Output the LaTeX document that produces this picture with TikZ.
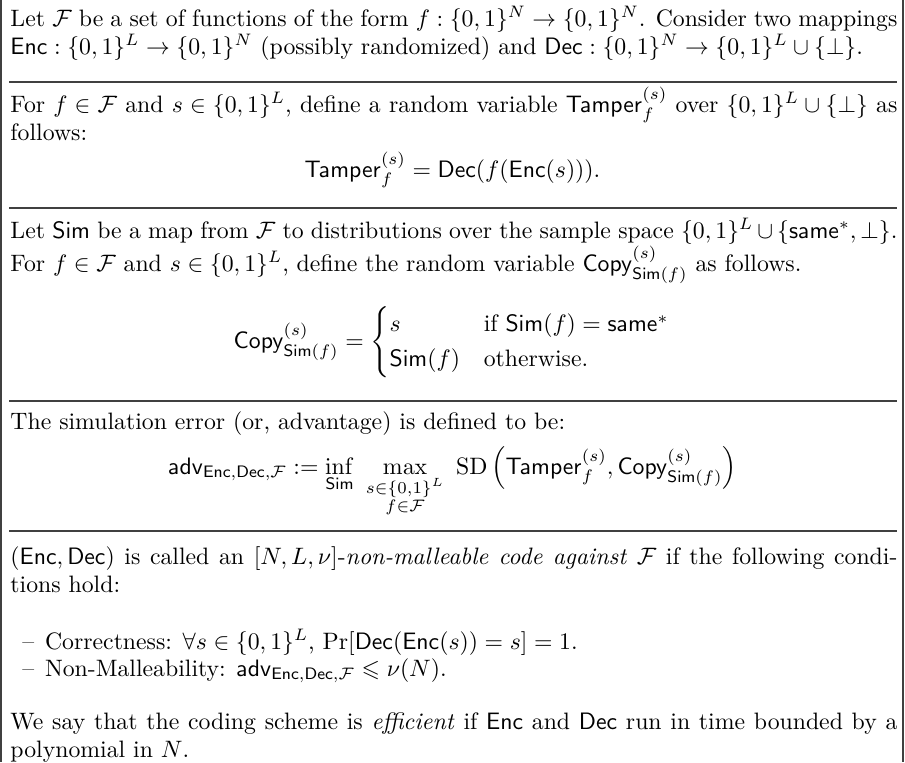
\documentclass[tikz,border=0pt]{standalone}
\usepackage{amsmath}
\usepackage{amssymb}
\usepackage{tikz}
\usetikzlibrary{calc}

% Algorithm and set names
\newcommand{\Enc}{\mathsf{Enc}}
\newcommand{\Dec}{\mathsf{Dec}}
\newcommand{\Sim}{\mathsf{Sim}}
\newcommand{\Tamper}{\mathsf{Tamper}}
\newcommand{\Copy}{\mathsf{Copy}}
\newcommand{\same}{\mathsf{same}}
\newcommand{\adv}{\mathsf{adv}}
\newcommand{\Fam}{\mathcal{F}}
\newcommand{\bits}[1]{\{0,1\}^{#1}}

\tikzset{
  para/.style={anchor=base west, inner sep=0pt, text width=373.5pt, align=justify},
  disp/.style={anchor=base, inner sep=0pt},
  item/.style={anchor=base west, inner sep=0pt},
  rulebar/.style={line width=0.5pt, black!75},
}

\begin{document}
\begin{tikzpicture}[x=0.4211pt, y=0.4211pt]

\useasboundingbox (0,0) rectangle (905,-762);

% ---------------------------------------------------------------------------
% Frame: only the two side bars, separators between the blocks
% ---------------------------------------------------------------------------
\draw[rulebar] (1,0) -- (1,-762);
\draw[rulebar] (903,0) -- (903,-762);
\foreach \ry in {82, 208, 401, 531} {
    \draw[rulebar] (9,-\ry) -- (897,-\ry);
}

% ---------------------------------------------------------------------------
% Setting
% ---------------------------------------------------------------------------
\node[para] (intro) at (10,-26) {Let $\Fam$ be a set of functions of the form
  $f:\bits{N}\to\bits{N}$. Consider two mappings $\Enc:\bits{L}\to\bits{N}$
  (possibly randomized) and $\Dec:\bits{N}\to\bits{L}\cup\{\bot\}$.};

% ---------------------------------------------------------------------------
% Tampering experiment
% ---------------------------------------------------------------------------
\node[para] (tamperdef) at (10,-112) {For $f\in\Fam$ and $s\in\bits{L}$, define a
  random variable $\Tamper_f^{(s)}$ over $\bits{L}\cup\{\bot\}$ as follows:};
\node[disp] (tampereq) at (452.5,-177) {$\Tamper_f^{(s)} = \Dec(f(\Enc(s))).$};

% ---------------------------------------------------------------------------
% Simulator
% ---------------------------------------------------------------------------
\node[para] (simdef) at (10,-238) {Let $\Sim$ be a map from $\Fam$ to distributions
  over the sample space $\bits{L}\cup\{\same^*,\bot\}$. For $f\in\Fam$ and
  $s\in\bits{L}$, define the random variable $\Copy^{(s)}_{\Sim(f)}$ as follows.};
\node[disp] (copyeq) at (452.5,-348) {$\displaystyle \Copy^{(s)}_{\Sim(f)} =
  \begin{cases} s & \text{if } \Sim(f) = \same^* \\
                \Sim(f) & \text{otherwise.} \end{cases}$};

% ---------------------------------------------------------------------------
% Advantage
% ---------------------------------------------------------------------------
\node[para] (errdef) at (10,-429) {The simulation error (or, advantage) is defined to be:};
\node[disp] (adveq) at (452.5,-474) {$\displaystyle \adv_{\Enc,\Dec,\Fam} :=
  \inf_{\Sim}\ \max_{\substack{s\in\bits{L}\\ f\in\Fam}}\ \mathrm{SD}
  \left(\Tamper_f^{(s)},\Copy^{(s)}_{\Sim(f)}\right)$};

% ---------------------------------------------------------------------------
% Definition and conditions
% ---------------------------------------------------------------------------
\node[para] (nmcdef) at (10,-564) {$(\Enc,\Dec)$ is called an $[N,L,\nu]$-\emph{non-malleable
  code against} $\Fam$ if the following condi-\linebreak tions hold:};
\node[item] (corr) at (22,-649)
  {--\hspace{4.5pt}Correctness: $\forall s\in\bits{L}$, $\Pr[\Dec(\Enc(s))=s]=1$.};
\node[item] (nonmal) at (22,-676)
  {--\hspace{4.5pt}Non-Malleability: $\adv_{\Enc,\Dec,\Fam}\leqslant\nu(N)$.};

\node[para] (effdef) at (10,-729) {We say that the coding scheme is \emph{efficient}
  if $\Enc$ and $\Dec$ run in time bounded by a polynomial in $N$.};

\end{tikzpicture}
\end{document}
